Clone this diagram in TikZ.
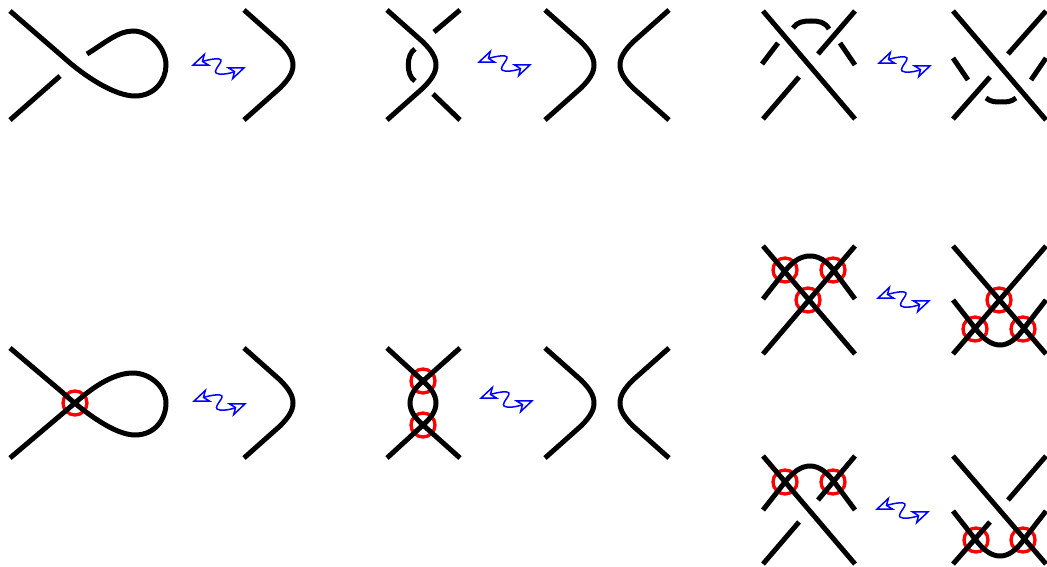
\documentclass[tikz,border=0pt]{standalone}
\usetikzlibrary{arrows.meta}
\tikzset{
	strand/.style={line width=0.15cm},
	ring/.style={red,line width=0.1cm},
	wigtip/.tip={Stealth[open,length=0.56cm,width=0.44cm,inset=0.16cm]},
	rightarc/.pic={\draw[strand] (0,0)--(36,32) .. controls (44,40) and (49,47) .. (49,55) .. controls (49,63) and (44,70) .. (36,78)--(0,110);},
	leftarc/.pic={\draw[strand] (0,0)--(-36,32) .. controls (-44,40) and (-49,47) .. (-49,55) .. controls (-49,63) and (-44,70) .. (-36,78)--(0,110);},
	wiggle/.pic={\draw[blue,line width=0.045cm,wigtip-wigtip] (0,0) .. controls (10,-4) and (22,-8) .. (28,-7) .. controls (36,-6) and (17,7) .. (28,8) .. controls (36,9) and (45,5) .. (55,1);}
}
\begin{document}
\begin{tikzpicture}[x=0.03cm,y=-0.03cm]
	\useasboundingbox (0,0) rectangle (1047,567);
	\def\rr{12}
	% top row
	\draw[strand] (10,11)--(62,56) .. controls (85,77) and (115,96) .. (135,96) .. controls (155,96) and (166,80) .. (166,65) .. controls (166,48) and (150,31) .. (133,31) .. controls (118,31) and (105,43) .. (87,54);
	\draw[strand] (10,120)--(60,76);
	\pic at (191,66) {wiggle};
	\pic at (244,10) {rightarc};
	\pic at (387,10) {rightarc};
	\draw[strand] (434,32)--(460,10);
	\draw[strand] (433,94)--(460,120);
	\draw[strand] (415,49) .. controls (406,54) and (406,76) .. (415,81);
	\pic at (477,63) {wiggle};
	\pic at (545,10) {rightarc};
	\pic at (669,10) {leftarc};
	\draw[strand] (763,11)--(855,119);
	\draw[strand] (762,64)--(778,43);
	\draw[strand] (793,28) .. controls (797,22) and (803,21) .. (811,21) .. controls (819,21) and (825,22) .. (829,29);
	\draw[strand] (855,11)--(818,54);
	\draw[strand] (840,43)--(855,65);
	\draw[strand] (799,77)--(763,119);
	\pic at (877,64) {wiggle};
	\draw[strand] (953,11)--(1046,120);
	\draw[strand] (1046,11)--(1008,54);
	\draw[strand] (953,58)--(968,80);
	\draw[strand] (990,77)--(953,119);
	\draw[strand] (986,98) .. controls (991,102) and (995,102) .. (1001,102) .. controls (1007,102) and (1011,102) .. (1016,98);
	\draw[strand] (1046,58)--(1031,80);
	% bottom left
	\draw[ring] (75,403) circle (\rr);
	\draw[strand] (10,348)--(62,392) .. controls (85,413) and (115,435) .. (135,435) .. controls (155,435) and (166,419) .. (166,403) .. controls (166,387) and (150,373) .. (133,373) .. controls (115,373) and (95,385) .. (75,403)--(10,458);
	\pic at (192,402) {wiggle};
	\pic at (244,348) {rightarc};
	\draw[ring] (423,381) circle (\rr);
	\draw[ring] (423,425) circle (\rr);
	\draw[strand] (387,348)--(423,381) .. controls (431,388) and (436,395) .. (436,403) .. controls (436,411) and (431,418) .. (423,425)--(387,458);
	\draw[strand] (460,348)--(423,381) .. controls (415,388) and (410,395) .. (410,403) .. controls (410,411) and (415,418) .. (423,425)--(460,458);
	\pic at (479,399) {wiggle};
	\pic at (545,348) {rightarc};
	\pic at (669,348) {leftarc};
	% right column, virtual crossings
	\draw[ring] (785,270) circle (\rr);
	\draw[ring] (833,270) circle (\rr);
	\draw[ring] (808,300) circle (\rr);
	\draw[strand] (763,246)--(855,354);
	\draw[strand] (855,246)--(763,354);
	\draw[strand] (763,299)--(785,271) .. controls (793,261) and (801,256) .. (810,256) .. controls (819,256) and (827,261) .. (835,272)--(855,299);
	\pic at (876,299) {wiggle};
	\draw[ring] (975,329) circle (\rr);
	\draw[ring] (1023,329) circle (\rr);
	\draw[ring] (999,300) circle (\rr);
	\draw[strand] (953,246)--(1046,354);
	\draw[strand] (1046,246)--(953,354);
	\draw[strand] (953,300)--(975,328) .. controls (984,340) and (992,345) .. (1000,345) .. controls (1008,345) and (1016,340) .. (1025,327)--(1046,300);
	\draw[ring] (785,482) circle (\rr);
	\draw[ring] (833,482) circle (\rr);
	\draw[strand] (763,456)--(855,564);
	\draw[strand] (855,456)--(818,500);
	\draw[strand] (799,522)--(763,564);
	\draw[strand] (763,510)--(785,482) .. controls (793,472) and (801,466) .. (810,466) .. controls (819,466) and (827,472) .. (835,483)--(855,510);
	\pic at (875,510) {wiggle};
	\draw[ring] (976,540) circle (\rr);
	\draw[ring] (1023,540) circle (\rr);
	\draw[strand] (953,456)--(1046,564);
	\draw[strand] (1046,456)--(1008,500);
	\draw[strand] (990,522)--(953,564);
	\draw[strand] (953,511)--(975,539) .. controls (984,551) and (992,556) .. (1000,556) .. controls (1008,556) and (1016,551) .. (1025,538)--(1046,511);
\end{tikzpicture}
\end{document}
